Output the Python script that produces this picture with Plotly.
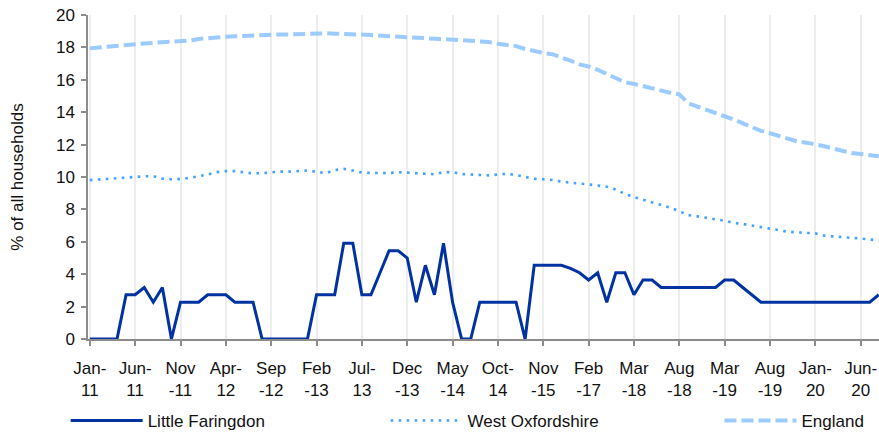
import plotly.graph_objects as go

# ---- data ----
categories = [
    "Jan-11", "Feb-11", "Mar-11", "Apr-11", "May-11", "Jun-11", "Jul-11", "Aug-11", "Sep-11", "Oct-11",
    "Nov-11", "Dec-11", "Jan-12", "Feb-12", "Mar-12", "Apr-12", "May-12", "Jun-12", "Jul-12", "Aug-12",
    "Sep-12", "Oct-12", "Nov-12", "Dec-12", "Jan-13", "Feb-13", "Mar-13", "Apr-13", "May-13", "Jun-13",
    "Jul-13", "Aug-13", "Sep-13", "Oct-13", "Nov-13", "Dec-13", "Jan-14", "Feb-14", "Mar-14", "Apr-14",
    "May-14", "Jun-14", "Jul-14", "Aug-14", "Sep-14", "Oct-14", "Nov-14", "Feb-15", "May-15", "Aug-15",
    "Nov-15", "Feb-16", "May-16", "Aug-16", "Nov-16", "Feb-17", "May-17", "Aug-17", "Nov-17", "Feb-18",
    "Mar-18", "Apr-18", "May-18", "Jun-18", "Jul-18", "Aug-18", "Sep-18", "Nov-18", "Dec-18", "Feb-19",
    "Mar-19", "Apr-19", "May-19", "Jun-19", "Jul-19", "Aug-19", "Sep-19", "Oct-19", "Nov-19", "Dec-19",
    "Jan-20", "Feb-20", "Mar-20", "Apr-20", "May-20", "Jun-20", "Jul-20", "Aug-20",
]

little_faringdon = [
    0, 0, 0, 0, 2.73, 2.73, 3.18, 2.27, 3.18, 0,
    2.27, 2.27, 2.27, 2.73, 2.73, 2.73, 2.27, 2.27, 2.27, 0,
    0, 0, 0, 0, 0, 2.73, 2.73, 2.73, 5.91, 5.91,
    2.73, 2.73, 4.09, 5.45, 5.45, 5.0, 2.27, 4.55, 2.73, 5.91,
    2.27, 0, 0, 2.27, 2.27, 2.27, 2.27, 2.27, 0, 4.55,
    4.55, 4.55, 4.55, 4.36, 4.09, 3.64, 4.09, 2.27, 4.09, 4.09,
    2.73, 3.64, 3.64, 3.18, 3.18, 3.18, 3.18, 3.18, 3.18, 3.18,
    3.64, 3.64, 3.18, 2.73, 2.27, 2.27, 2.27, 2.27, 2.27, 2.27,
    2.27, 2.27, 2.27, 2.27, 2.27, 2.27, 2.27, 2.73,
]

west_oxfordshire = [
    9.81, 9.85, 9.9, 9.96, 10.0, 10.0, 10.04, 10.05, 9.9, 9.86,
    9.87, 9.95, 10.05, 10.15, 10.3, 10.36, 10.36, 10.3, 10.22, 10.24,
    10.3, 10.33, 10.33, 10.35, 10.4, 10.33, 10.23, 10.43, 10.5, 10.4,
    10.27, 10.25, 10.23, 10.24, 10.3, 10.26, 10.23, 10.22, 10.17, 10.3,
    10.3, 10.18, 10.15, 10.13, 10.1, 10.15, 10.2, 10.12, 10.0, 9.89,
    9.86, 9.82, 9.72, 9.64, 9.59, 9.54, 9.48, 9.4, 9.22, 8.96,
    8.76, 8.6, 8.45, 8.3, 8.11, 7.88, 7.65, 7.57, 7.46, 7.39,
    7.3, 7.17, 7.1, 7.0, 6.91, 6.83, 6.74, 6.62, 6.58, 6.56,
    6.52, 6.38, 6.32, 6.27, 6.24, 6.2, 6.13, 6.08,
]

england = [
    17.94, 18.0, 18.04, 18.1, 18.17, 18.2, 18.24, 18.28, 18.3, 18.33,
    18.35, 18.42, 18.52, 18.58, 18.63, 18.66, 18.69, 18.72, 18.75, 18.77,
    18.79, 18.8, 18.8, 18.82, 18.87, 18.91, 18.87, 18.85, 18.85, 18.82,
    18.79, 18.76, 18.73, 18.68, 18.65, 18.64, 18.63, 18.62, 18.57, 18.53,
    18.5, 18.46, 18.41, 18.37, 18.33, 18.22, 18.14, 18.08, 17.9, 17.76,
    17.66, 17.58, 17.4, 17.18, 16.95, 16.82, 16.62, 16.35, 16.08, 15.85,
    15.75, 15.6, 15.5, 15.33, 15.2, 15.1, 14.55, 14.35, 14.17, 13.93,
    13.75, 13.55, 13.3, 13.05, 12.85, 12.7, 12.55, 12.37, 12.2, 12.12,
    12.02, 11.9, 11.75, 11.6, 11.48, 11.42, 11.35, 11.28,
]

tick_labels = [
    "Jan-<br>11", "Jun-<br>11", "Nov<br>-11", "Apr-<br>12", "Sep<br>-12", "Feb<br>-13",
    "Jul-<br>13", "Dec<br>-13", "May<br>-14", "Oct-<br>14", "Nov<br>-15", "Feb<br>-17",
    "Mar<br>-18", "Aug<br>-18", "Mar<br>-19", "Aug<br>-19", "Jan-<br>20", "Jun-<br>20",
]
tick_positions = categories[::5]

FONT = "Liberation Sans, Arial, sans-serif"

fig = go.Figure()
fig.add_trace(go.Scatter(
    x=categories, y=west_oxfordshire, name="West Oxfordshire", mode="lines",
    line=dict(color="#45a1ff", width=2.6, dash="2.6px,5.4px"), legend="legend2",
))
fig.add_trace(go.Scatter(
    x=categories, y=england, name="England", mode="lines",
    line=dict(color="#9ccbff", width=4, dash="12px,5px"), legend="legend3",
))
fig.add_trace(go.Scatter(
    x=categories, y=little_faringdon, name="Little Faringdon", mode="lines",
    line=dict(color="#0033a1", width=3), legend="legend",
))

legend_common = dict(
    orientation="h", yref="container", xref="container",
    yanchor="middle", y=0.028, xanchor="left",
    font=dict(family=FONT, size=17, color="#111111"),
    bgcolor="rgba(0,0,0,0)", itemwidth=72,
)

fig.update_layout(
    width=879, height=433,
    margin=dict(l=88, r=0, t=15, b=94, autoexpand=False),
    paper_bgcolor="white", plot_bgcolor="white",
    font=dict(family=FONT, size=17, color="#111111"),
    showlegend=True,
    legend=dict(legend_common, x=0.0747),
    legend2=dict(legend_common, x=0.4387),
    legend3=dict(legend_common, x=0.8185),
    xaxis=dict(
        type="category", range=[-0.2, 87.02], automargin=False,
        tickmode="array", tickvals=tick_positions, ticktext=tick_labels,
        showgrid=True, gridcolor="#ededed", gridwidth=1.5,
        showline=True, linecolor="#8c8c8c", linewidth=1.5,
        ticks="outside", ticklen=5, tickcolor="#8c8c8c", tickwidth=1.5,
        tickangle=0, ticklabelstandoff=8,
        tickfont=dict(family=FONT, size=17, color="#111111"),
        layer="below traces", zeroline=False,
    ),
    yaxis=dict(
        range=[0, 20], dtick=2, showgrid=False, zeroline=False, automargin=False,
        showline=True, linecolor="#8c8c8c", linewidth=1.5,
        ticks="outside", ticklen=5, tickcolor="#8c8c8c", tickwidth=1.5,
        ticklabelstandoff=3,
        tickfont=dict(family=FONT, size=17, color="#111111"),
        title=dict(text="% of all households", standoff=28,
                   font=dict(family=FONT, size=17, color="#111111")),
        layer="below traces",
    ),
)

fig.write_html(
    "out.html",
    config={"displayModeBar": False},
    post_script="document.body.style.margin='0';document.body.style.overflow='hidden';",
)
